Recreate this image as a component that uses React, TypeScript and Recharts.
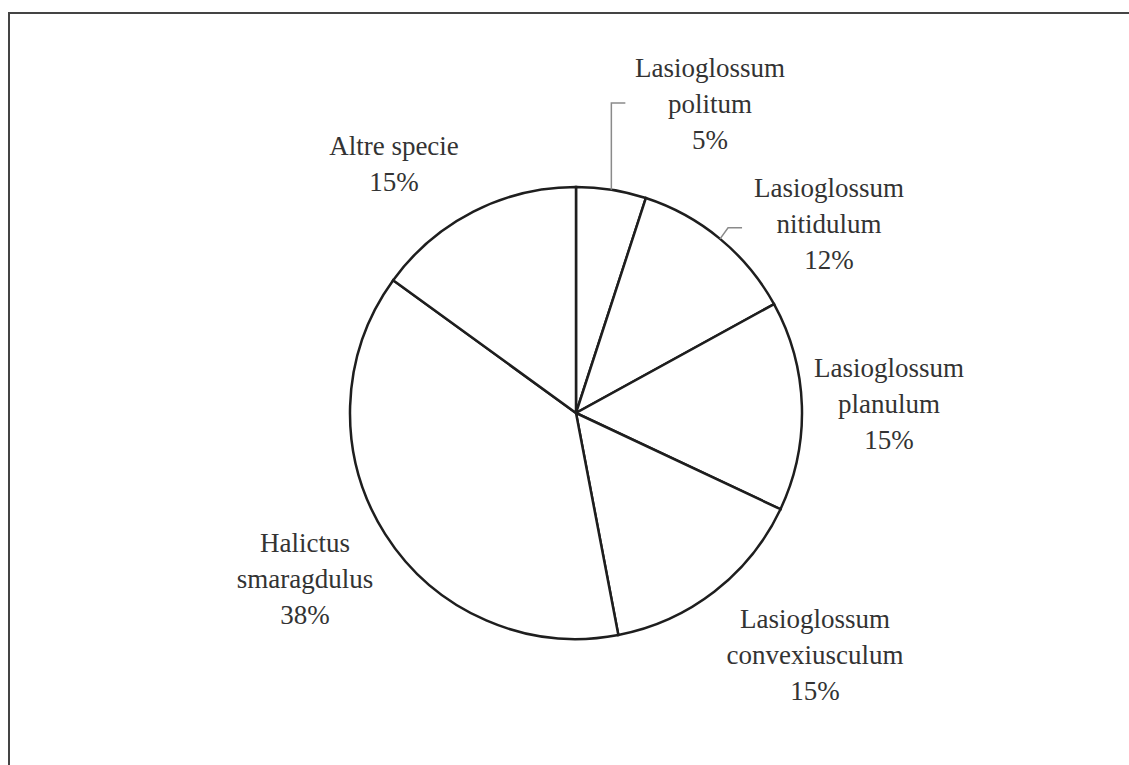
import React from 'react';
import { PieChart, Pie, Cell } from 'recharts';

const speciesNames: string[][] = [
  ['Lasioglossum', 'politum'],
  ['Lasioglossum', 'nitidulum'],
  ['Lasioglossum', 'planulum'],
  ['Lasioglossum', 'convexiusculum'],
  ['Halictus', 'smaragdulus'],
  ['Altre specie'],
];
const percentValues: number[] = [5, 12, 15, 15, 38, 15];

const data = speciesNames.map((lines, i) => ({
  name: lines.join(' '),
  lines,
  value: percentValues[i],
}));

// label layout: anchor offsets (text centre x, first baseline y) relative to pie centre
const labelOffsets: { dx: number; dy: number }[] = [
  { dx: 134, dy: -336 },
  { dx: 253, dy: -216 },
  { dx: 313, dy: -36 },
  { dx: 239, dy: 215 },
  { dx: -271, dy: 139 },
  { dx: -182, dy: -258 },
];
const LINE_H = 36;
const RAD = Math.PI / 180;
const FONT = 'Liberation Serif, DejaVu Serif, Times New Roman, serif';

const renderLabel = (props: any) => {
  const { cx, cy, midAngle, outerRadius, index } = props;
  const off = labelOffsets[index];
  const tx = cx + off.dx;
  const ty = cy + off.dy;
  const lines: string[] = data[index].lines;
  const ax = cx + outerRadius * Math.cos(-midAngle * RAD);
  const ay = cy + outerRadius * Math.sin(-midAngle * RAD);
  let leader: string | null = null;
  if (index === 0) {
    const ey = cy - 310;
    leader = `${ax},${ay} ${ax},${ey} ${ax + 14},${ey}`;
  } else if (index === 1) {
    leader = `${ax},${ay} ${ax + 8},${ay - 11} ${ax + 22},${ay - 11}`;
  }
  return (
    <g key={`lbl-${index}`}>
      {leader && (
        <polyline points={leader} fill="none" stroke="#8a8a8a" strokeWidth={1.5} />
      )}
      <text
        x={tx}
        y={ty}
        textAnchor="middle"
        fill="#333"
        fontFamily={FONT}
        fontSize={27}
        style={{ fontFamily: FONT, fontSize: 27 }}
      >
        {lines.map((l, k) => (
          <tspan key={k} x={tx} y={ty + k * LINE_H}>
            {l}
          </tspan>
        ))}
        <tspan x={tx} y={ty + lines.length * LINE_H}>
          {`${percentValues[index]}%`}
        </tspan>
      </text>
    </g>
  );
};

export default function App() {
  return (
    <div
      style={{
        position: 'absolute',
        left: 0,
        top: 0,
        width: 1129,
        height: 765,
        background: '#fff',
        overflow: 'hidden',
        fontFamily: FONT,
      }}
    >
      <div
        style={{
          position: 'absolute',
          left: 8,
          top: 12,
          width: 1140,
          height: 780,
          borderLeft: '2px solid #444',
          borderTop: '2px solid #444',
        }}
      />
      <div style={{ position: 'absolute', left: 0, top: 0 }}>
        <PieChart width={1129} height={765} margin={{ top: 0, right: 0, bottom: 0, left: 0 }}>
          <Pie
            data={data}
            dataKey="value"
            nameKey="name"
            cx={576}
            cy={413}
            outerRadius={226}
            startAngle={90}
            endAngle={-270}
            stroke="#1e1e1e"
            strokeWidth={2.5}
            label={renderLabel}
            labelLine={false}
            isAnimationActive={false}
          >
            {data.map((d, i) => (
              <Cell key={i} fill="#ffffff" />
            ))}
          </Pie>
        </PieChart>
      </div>
    </div>
  );
}
